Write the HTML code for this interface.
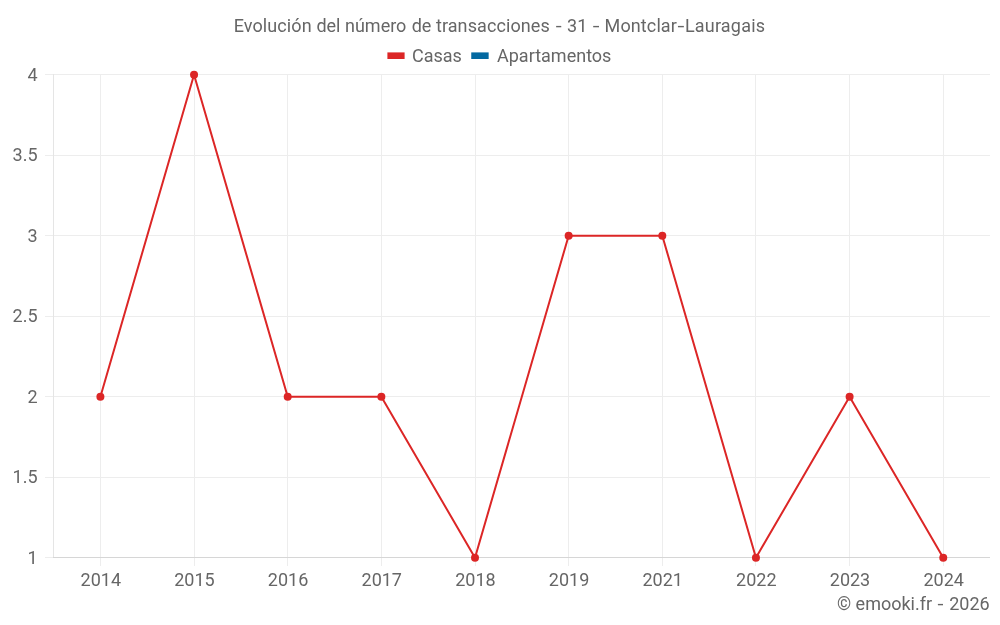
<!DOCTYPE html><html><head><meta charset="utf-8"><title>Evolución del número de transacciones - 31 - Montclar-Lauragais</title><style>html,body{margin:0;padding:0;background:#fff;width:1000px;height:625px;overflow:hidden}svg{display:block}text{font-family:Roboto, 'Liberation Sans', sans-serif;fill:#666;font-size:18px}</style></head><body>
<svg width="1000" height="625" viewBox="0 0 1000 625">
<rect width="1000" height="625" fill="#fff"/>
<path d="M45 74.5H990 M45 155.5H990 M45 235.5H990 M45 316.5H990 M45 396.5H990 M45 477.5H990 M45 557.5H990 M100.5 74V566 M194.5 74V566 M287.5 74V566 M381.5 74V566 M475.5 74V566 M568.5 74V566 M662.5 74V566 M755.5 74V566 M849.5 74V566 M943.5 74V566" stroke="#ededed" stroke-width="1" fill="none" shape-rendering="crispEdges"/>
<path d="M53.5 74V557" stroke="#e5e5e5" stroke-width="1" fill="none" shape-rendering="crispEdges"/>
<path d="M53 557.5H990" stroke="#d6d6d6" stroke-width="1" fill="none" shape-rendering="crispEdges"/>
<g>
<text x="233.70" y="31.60" letter-spacing="0.10">Evolución</text>
<text x="316.40" y="31.60">del</text>
<text x="345.00" y="31.60">número</text>
<text x="411.70" y="31.60">de</text>
<text x="435.90" y="31.60" letter-spacing="0.10">transacciones</text>
<text x="567.10" y="31.60">31</text>
<text x="604.60" y="31.60" letter-spacing="0.11">Montclar</text>
<text x="684.90" y="31.60" letter-spacing="0.20">Lauragais</text>
<text x="0" y="31.60" transform="matrix(1.189 0 0 1 555.71 0)">-</text>
<text x="0" y="31.60" transform="matrix(1.352 0 0 1 592.65 0)">-</text>
<text x="0" y="31.60" transform="matrix(1.375 0 0 1 677.55 0)">-</text>
</g>
<rect x="387.4" y="52.4" width="17.2" height="6.6" fill="#dc2626"/>
<text x="412" y="62">Casas</text>
<rect x="471.25" y="52.4" width="17.4" height="6.6" fill="#0369a1"/>
<text x="497" y="62">Apartamentos</text>
<text x="37.5" y="81" text-anchor="end">4</text>
<text x="37.5" y="161" text-anchor="end">3.5</text>
<text x="37.5" y="242" text-anchor="end">3</text>
<text x="37.5" y="322" text-anchor="end">2.5</text>
<text x="37.5" y="403" text-anchor="end">2</text>
<text x="37.5" y="483" text-anchor="end">1.5</text>
<text x="37.5" y="564" text-anchor="end">1</text>
<text x="100.80" y="586.0" text-anchor="middle">2014</text>
<text x="194.45" y="586.0" text-anchor="middle">2015</text>
<text x="288.10" y="586.0" text-anchor="middle">2016</text>
<text x="381.75" y="586.0" text-anchor="middle">2017</text>
<text x="475.40" y="586.0" text-anchor="middle">2018</text>
<text x="569.05" y="586.0" text-anchor="middle">2019</text>
<text x="662.70" y="586.0" text-anchor="middle">2021</text>
<text x="756.35" y="586.0" text-anchor="middle">2022</text>
<text x="850.00" y="586.0" text-anchor="middle">2023</text>
<text x="943.65" y="586.0" text-anchor="middle">2024</text>
<text x="836.9" y="610.0">©</text>
<text x="855.6" y="610.0">emooki.fr</text>
<text x="0" y="610.00" transform="matrix(1.189 0 0 1 937.51 0)">-</text>
<text x="949.2" y="610.0">2026</text>
<polyline points="100.40,396.70 194.05,74.70 287.70,396.70 381.35,396.70 475.00,557.70 568.65,235.70 662.30,235.70 755.95,557.70 849.60,396.70 943.25,557.70" fill="none" stroke="#dc2626" stroke-width="2" stroke-linejoin="round"/>
<circle cx="100.40" cy="396.70" r="4" fill="#dc2626"/>
<circle cx="194.05" cy="74.70" r="4" fill="#dc2626"/>
<circle cx="287.70" cy="396.70" r="4" fill="#dc2626"/>
<circle cx="381.35" cy="396.70" r="4" fill="#dc2626"/>
<circle cx="475.00" cy="557.70" r="4" fill="#dc2626"/>
<circle cx="568.65" cy="235.70" r="4" fill="#dc2626"/>
<circle cx="662.30" cy="235.70" r="4" fill="#dc2626"/>
<circle cx="755.95" cy="557.70" r="4" fill="#dc2626"/>
<circle cx="849.60" cy="396.70" r="4" fill="#dc2626"/>
<circle cx="943.25" cy="557.70" r="4" fill="#dc2626"/>
</svg></body></html>
